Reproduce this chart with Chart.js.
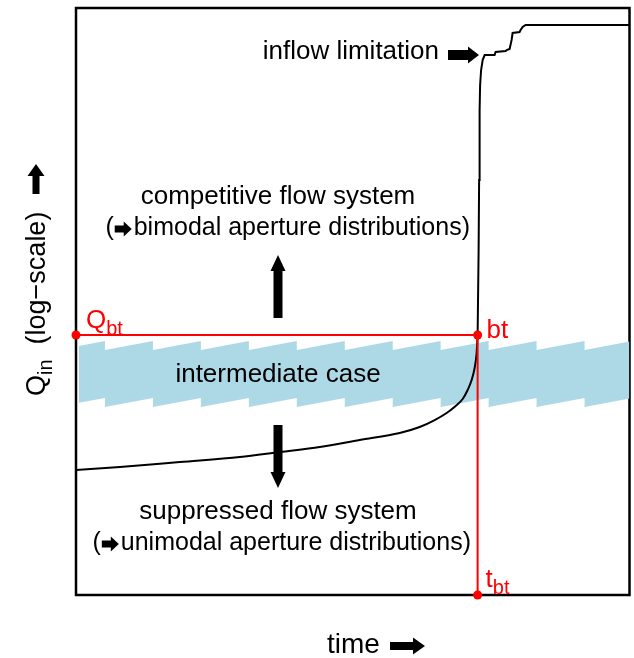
<!DOCTYPE html>
<html>
<head>
<meta charset="utf-8">
<script src="https://cdn.jsdelivr.net/npm/chart.js@4"></script>
<style>
  html, body { margin: 0; padding: 0; background: #fff; }
  #wrap { width: 634px; height: 658px; }
</style>
</head>
<body>
<div id="wrap"><canvas id="c" width="634" height="658"></canvas></div>
<script>
/* Zulauf Q_in über die Zeit (y in log-Einheiten, 0..100 normiert) */
// flacher Anstieg bis zum Durchbruch
const tempoVor = [0, 7.94, 18.77, 29.60, 36.82, 44.04, 51.26, 58.48, 62.09, 64.80, 66.97, 68.59, 69.86,
  70.76, 71.48, 72.02, 72.38, 72.56];
const qInVor = [21.29, 21.81, 22.66, 23.51, 24.36, 25.21, 26.41, 27.60, 28.62, 29.81, 31.01, 32.20, 33.39,
  34.92, 36.63, 38.67, 41.23, 44.29];
// steiler Anstieg und Stufen bis zur Zulaufbegrenzung
const tempoNach = [72.56, 72.74, 72.83, 72.92, 73.01, 73.19, 73.47, 73.83, 75.63, 75.81,
  77.62, 77.80, 78.34, 78.70, 78.88, 80.14, 80.32, 80.69, 81.23, 100];
const qInNach = [44.29, 58.77, 70.70, 82.62, 86.88, 89.44, 91.14, 91.99, 91.99, 92.50,
  92.67, 92.84, 93.02, 94.55, 95.74, 95.91, 96.25, 96.76, 97.10, 97.10];

/* Durchbruch */
const Q_BT = 44.29;
const T_BT = 72.56;

/* Übergangsbereich (Sägezahnband) */
const bandX = [0.5, 5.23, 5.23, 13.90, 13.90, 22.56, 22.56, 31.23, 31.23, 39.89, 39.89, 48.56, 48.56,
  57.22, 57.22, 65.88, 65.88, 74.55, 74.55, 83.21, 83.21, 91.88, 91.88, 100];
const bandOben = [42.44, 43.27, 41.74, 43.27, 41.74, 43.27, 41.74, 43.27, 41.74, 43.27, 41.74, 43.27, 41.74,
  43.27, 41.74, 43.27, 41.74, 43.27, 41.74, 43.27, 41.74, 43.27, 41.74, 43.17];
const bandUnten = [32.73, 33.56, 32.03, 33.56, 32.03, 33.56, 32.03, 33.56, 32.03, 33.56, 32.03, 33.56, 32.03,
  33.56, 32.03, 33.56, 32.03, 33.56, 32.03, 33.56, 32.03, 33.56, 32.03, 33.46];

const ROT = "#ff0000";
const BLAU = "#add8e6";
const FONT = "Liberation Sans, Arial, sans-serif";

function punkte(xs, ys) {
  return xs.map((x, i) => ({ x, y: ys[i] }));
}

// dicker Pfeil, (x,y) = Spitze, Richtung in Grad (0 = rechts)
function pfeil(ctx, x, y, len, schaft, kopf, kopfLen, winkel) {
  ctx.save();
  ctx.translate(x, y);
  ctx.rotate(winkel * Math.PI / 180);
  ctx.beginPath();
  ctx.moveTo(0, 0);
  ctx.lineTo(-kopfLen, -kopf / 2);
  ctx.lineTo(-kopfLen, -schaft / 2);
  ctx.lineTo(-len, -schaft / 2);
  ctx.lineTo(-len, schaft / 2);
  ctx.lineTo(-kopfLen, schaft / 2);
  ctx.lineTo(-kopfLen, kopf / 2);
  ctx.closePath();
  ctx.fillStyle = "#000";
  ctx.fill();
  ctx.restore();
}

// Text mit Index, links ausgerichtet, gibt Breite zurück
function textIndex(ctx, x, y, haupt, index, size, farbe) {
  ctx.fillStyle = farbe;
  ctx.textAlign = "left";
  ctx.textBaseline = "alphabetic";
  ctx.font = size + "px " + FONT;
  ctx.fillText(haupt, x, y);
  const w = ctx.measureText(haupt).width;
  ctx.font = Math.round(size * 0.75) + "px " + FONT;
  ctx.fillText(index, x + w, y + size * 0.25);
  return w + ctx.measureText(index).width;
}

const rahmen = {
  id: "rahmen",
  beforeDatasetsDraw(chart) {
    const { ctx, chartArea: a } = chart;
    ctx.save();
    ctx.strokeStyle = "#000";
    ctx.lineWidth = 2.5;
    ctx.strokeRect(a.left, a.top, a.right - a.left, a.bottom - a.top);
    ctx.restore();
  },
};

const beschriftung = {
  id: "beschriftung",
  afterDraw(chart) {
    const { ctx } = chart;
    const sx = chart.scales.x, sy = chart.scales.y;
    const fs = 26;
    ctx.save();
    ctx.fillStyle = "#000";
    ctx.textBaseline = "middle";
    ctx.textAlign = "center";
    ctx.font = fs + "px " + FONT;

    const mx = 278;
    ctx.fillText("competitive flow system", mx, 197);
    ctx.fillText("intermediate case", mx, 375);
    ctx.fillText("suppressed flow system", mx, 512);

    // Zeilen mit eingebettetem Pfeil, rechtsbündig an xr
    function zeile(text, y, xr) {
      ctx.font = "25px " + FONT;
      const wA = ctx.measureText("(").width;
      const wT = ctx.measureText(text).width;
      const pw = 20;
      const x0 = xr - wT - pw - wA;
      ctx.textAlign = "left";
      ctx.fillText("(", x0, y);
      pfeil(ctx, x0 + wA + pw - 2, y + 1, pw - 3, 7, 15, 8, 0);
      ctx.fillText(text, x0 + wA + pw, y);
      ctx.textAlign = "center";
    }
    zeile("bimodal aperture distributions)", 228, 470);
    zeile("unimodal aperture distributions)", 543, 471);

    // große Pfeile auf/ab
    pfeil(ctx, mx, 255, 63, 9, 15, 16, -90);
    pfeil(ctx, mx, 488, 63, 9, 15, 16, 90);

    // Zulaufbegrenzung
    ctx.font = fs + "px " + FONT;
    ctx.textAlign = "right";
    ctx.fillText("inflow limitation", 439, 52);
    pfeil(ctx, 479, 55, 31, 10, 17, 11, 0);

    // Durchbruch-Beschriftungen
    const xb = sx.getPixelForValue(T_BT);
    const yb = sy.getPixelForValue(Q_BT);
    textIndex(ctx, sx.left + 10, yb - 7, "Q", "bt", fs, ROT);
    ctx.fillStyle = ROT;
    ctx.textAlign = "left";
    ctx.textBaseline = "alphabetic";
    ctx.font = fs + "px " + FONT;
    ctx.fillText("bt", xb + 9, yb + 3);
    textIndex(ctx, xb + 8, sy.bottom - 8, "t", "bt", fs, ROT);

    // Achsentitel
    ctx.fillStyle = "#000";
    ctx.font = "28px " + FONT;
    ctx.textAlign = "left";
    ctx.textBaseline = "middle";
    ctx.fillText("time", 327, 645);
    pfeil(ctx, 425, 646, 35, 8, 17, 12, 0);

    ctx.translate(35, 280);
    ctx.rotate(-Math.PI / 2);
    ctx.textBaseline = "alphabetic";
    const x = -116;
    const w1 = textIndex(ctx, x, 10, "Q", "in", 27, "#000");
    ctx.font = "27px " + FONT;
    ctx.fillText("  (log\u2212scale)", x + w1, 10);
    pfeil(ctx, 116, 1, 30, 7, 17, 12, 0);
    ctx.restore();
  },
};

new Chart(document.getElementById("c"), {
  type: "line",
  data: {
    datasets: [
      {
        data: punkte([0, T_BT, T_BT], [Q_BT, Q_BT, 0]),
        borderColor: ROT, borderWidth: 2,
        pointRadius: 4.5, pointBackgroundColor: ROT, pointBorderWidth: 0,
        tension: 0, clip: false,
      },
      {
        data: punkte(tempoVor, qInVor),
        borderColor: "#000", borderWidth: 2,
        pointRadius: 0, cubicInterpolationMode: "monotone",
      },
      {
        data: punkte(tempoNach, qInNach),
        borderColor: "#000", borderWidth: 2,
        pointRadius: 0, tension: 0,
      },
      {
        data: punkte(bandX, bandOben),
        borderWidth: 0, borderColor: BLAU, pointRadius: 0,
        backgroundColor: BLAU, fill: "+1", tension: 0,
      },
      {
        data: punkte(bandX, bandUnten),
        borderWidth: 0, borderColor: BLAU, pointRadius: 0, fill: false, tension: 0,
      },
    ],
  },
  options: {
    responsive: false,
    animation: false,
    layout: { padding: { left: 76, top: 8, right: 4, bottom: 63 } },
    scales: {
      x: { type: "linear", min: 0, max: 100, display: false },
      y: { type: "linear", min: 0, max: 100, display: false },
    },
    plugins: { legend: { display: false }, tooltip: { enabled: false } },
  },
  plugins: [rahmen, beschriftung],
});
</script>
</body>
</html>
